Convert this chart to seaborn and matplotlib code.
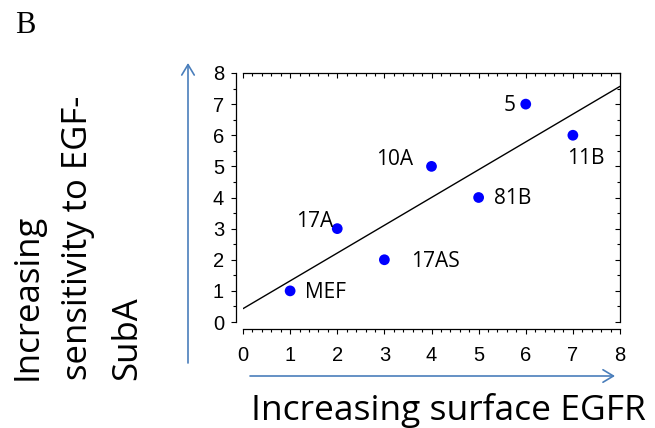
import matplotlib
matplotlib.use("Agg")
import matplotlib.pyplot as plt
from matplotlib.patches import FancyArrowPatch
from matplotlib.ticker import MultipleLocator, NullFormatter
import pandas as pd
import seaborn as sns

# Cell lines: surface EGFR rank vs. sensitivity rank to EGF-SubA
cell_lines = ["MEF", "17A", "17AS", "10A", "81B", "5", "11B"]
surface_egfr = [1, 2, 3, 4, 5, 6, 7]
subA_sensitivity = [1, 3, 2, 5, 4, 7, 6]
axis_ticks = [0, 1, 2, 3, 4, 5, 6, 7, 8]

# label placement: (dx, dy) in points and horizontal alignment
label_offsets = {
    "MEF": (11, -5, "left"),
    "17A": (-3, 1, "right"),
    "17AS": (19, -5, "left"),
    "10A": (-13, 1, "right"),
    "81B": (11, -5, "left"),
    "5": (-7, -5, "right"),
    "11B": (9, -21, "center"),
}

df = pd.DataFrame({"egfr": surface_egfr, "sens": subA_sensitivity, "line": cell_lines})

sns.set_theme(style="ticks", rc={
    "axes.edgecolor": "black", "xtick.color": "black", "ytick.color": "black",
    "text.color": "black", "axes.labelcolor": "black", "axes.linewidth": 0.9,
})
plt.rcParams["font.family"] = ["Liberation Sans", "DejaVu Sans"]

W, H = 655, 428
fig = plt.figure(figsize=(W / 100, H / 100), dpi=100)
ax = fig.add_axes([243 / W, 1 - 322 / H, (620 - 243) / W, (322 - 73) / H])
ax.set_xlim(0, 8)
ax.set_ylim(0, 8)

sns.regplot(data=df, x="egfr", y="sens", ax=ax, ci=None, truncate=False,
            scatter=False, line_kws=dict(color="black", lw=1.0))
sns.scatterplot(data=df, x="egfr", y="sens", ax=ax, color="#0000ff", s=60,
                edgecolor="none", zorder=3, legend=False)
ax.set_xlim(0, 8)
ax.set_ylim(0, 8)

for name, x, y in zip(cell_lines, surface_egfr, subA_sensitivity):
    dx, dy, ha = label_offsets[name]
    ax.annotate(name, (x, y), xytext=(dx, dy), textcoords="offset points",
                ha=ha, va="baseline", fontsize=15, family=["Open Sans", "DejaVu Sans"])

ax.set_xticks(axis_ticks)
ax.set_yticks(axis_ticks)
ax.xaxis.set_minor_locator(MultipleLocator(0.2))
ax.yaxis.set_minor_locator(MultipleLocator(0.5))
ax.set_xlabel("")
ax.set_ylabel("")
ax.tick_params(axis="both", which="major", direction="out", length=3.6, width=0.8, labelsize=14.5)
ax.tick_params(axis="both", which="minor", direction="out", length=2.2, width=0.8)
ax.tick_params(axis="x", which="major", pad=9)
ax.tick_params(axis="y", which="major", pad=5)

sns.despine(ax=ax, offset=dict(left=5, bottom=5))

# closed frame on top and right with inward ticks
top = ax.secondary_xaxis("top")
top.set_xticks(axis_ticks)
top.xaxis.set_minor_locator(MultipleLocator(0.2))
top.xaxis.set_major_formatter(NullFormatter())
top.tick_params(which="major", direction="in", length=3.6, width=0.8)
top.tick_params(which="minor", direction="in", length=2.2, width=0.8)
right = ax.secondary_yaxis("right")
right.set_yticks(axis_ticks)
right.yaxis.set_minor_locator(MultipleLocator(0.5))
right.yaxis.set_major_formatter(NullFormatter())
right.tick_params(which="major", direction="in", length=3.6, width=0.8)
right.tick_params(which="minor", direction="in", length=2.2, width=0.8)
for sec in (top, right):
    for sp in sec.spines.values():
        sp.set_linewidth(0.9)

# axis titles with direction arrows
label_font = ["Open Sans", "DejaVu Sans"]
fig.text(251 / W, (H - 420) / H, "Increasing surface EGFR", ha="left", va="baseline",
         fontsize=25.5, family=label_font)
fig.text(11 / W, (H - 380) / H, "Increasing\nsensitivity to EGF-\nSubA", rotation=90,
         ha="left", va="bottom", multialignment="left", linespacing=1.6,
         fontsize=25, family=label_font)

arrow_kw = dict(arrowstyle="->,head_length=0.75,head_width=0.45", color="#4a7ebb",
                lw=1.2, mutation_scale=10, shrinkA=0, shrinkB=0)
fig.add_artist(FancyArrowPatch((188, H - 363), (188, H - 63), transform=None, **arrow_kw))
fig.add_artist(FancyArrowPatch((250, H - 376), (615, H - 376), transform=None, **arrow_kw))

fig.text(15 / W, (H - 33) / H, "B", ha="left", va="baseline", fontsize=22,
         family=["Liberation Serif", "DejaVu Serif"])

fig.savefig("out.png", dpi=100)
